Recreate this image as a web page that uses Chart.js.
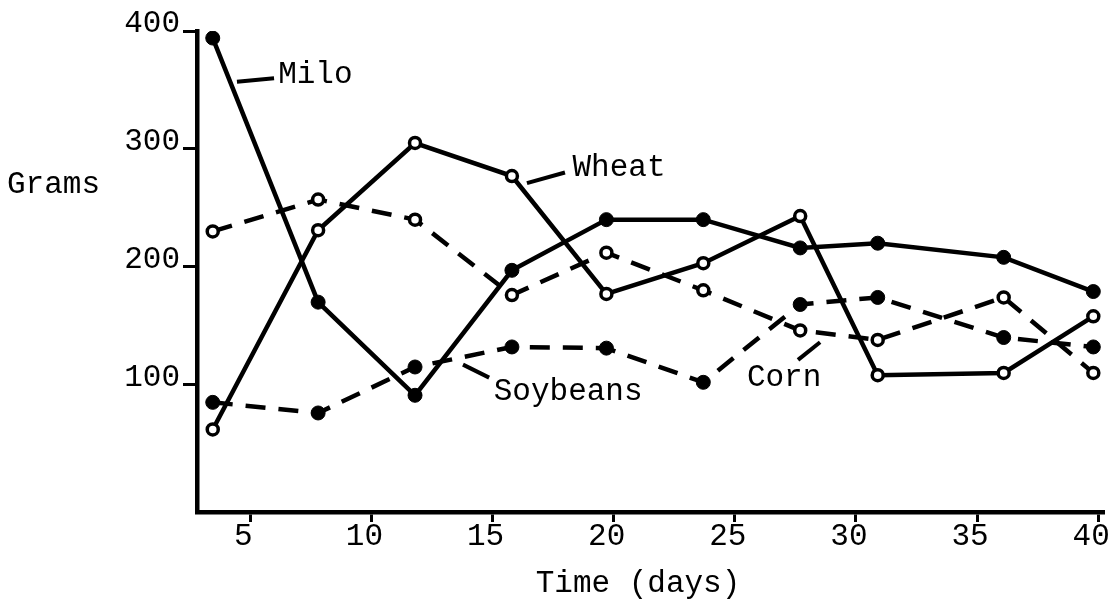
<!DOCTYPE html>
<html>
<head>
<meta charset="utf-8">
<script src="https://cdn.jsdelivr.net/npm/chart.js@4/dist/chart.umd.min.js"></script>
<style>
  html, body { margin: 0; padding: 0; background: #fff; }
  canvas { display: block; }
</style>
</head>
<body>
<canvas id="grainChart" width="1116" height="604"></canvas>
<script>
// days at which each grain was weighed
const days = [3.45, 7.8, 11.8, 15.8, 19.7, 23.7, 27.7, 30.9, 36.1, 39.8];

// grams
const milo     = [394, 170,  91, 197, 240, 240, 216, 220, 208, 179];
const wheat    = [ 62, 231, 305, 277, 177, 203, 243, 108, 110, 158];
const soybeans = [ 85,  76, 115, 132, 131, 102, 168, 174, 140, 132];
const corn     = [230, 257, 240, 176, 212, 180, 146, 138, 174, 110];

const xTicks = [5, 10, 15, 20, 25, 30, 35, 40];
const yTicks = [100, 200, 300, 400];

// name labels with their short leader strokes (data units)
const seriesLabels = [
    { text: 'Milo',     at: [6.15, 363], from: [4.45, 357], to: [5.98, 360] },
    { text: 'Wheat',    at: [18.3, 284], from: [16.42, 271], to: [17.99, 280] },
    { text: 'Soybeans', at: [15.05, 94], from: [13.78, 117], to: [14.86, 106] },
    { text: 'Corn',     at: [25.5, 106], from: [28.52, 136], to: [27.61, 121] }
];

const typeFont = '"Liberation Mono", "Courier New", monospace';

function toPoints(values) {
    return values.map((v, i) => ({ x: days[i], y: v }));
}

const labelPlugin = {
    id: 'labelPlugin',
    afterDraw(chart) {
        const c = chart.ctx;
        const xs = chart.scales.x;
        const ys = chart.scales.y;
        c.save();
        c.fillStyle = '#000';
        c.strokeStyle = '#000';
        c.font = '31px ' + typeFont;
        c.textBaseline = 'middle';
        c.lineWidth = 4;
        seriesLabels.forEach(l => {
            c.beginPath();
            c.moveTo(xs.getPixelForValue(l.from[0]), ys.getPixelForValue(l.from[1]));
            c.lineTo(xs.getPixelForValue(l.to[0]), ys.getPixelForValue(l.to[1]));
            c.stroke();
            c.textAlign = 'left';
            c.fillText(l.text, xs.getPixelForValue(l.at[0]), ys.getPixelForValue(l.at[1]));
        });
        // axis titles
        const area = chart.chartArea;
        c.textAlign = 'left';
        c.fillText('Grams', 7, area.top + 154);
        c.textAlign = 'center';
        c.fillText('Time (days)', area.left + 441, area.bottom + 72);
        c.restore();
    }
};

const ctx = document.getElementById('grainChart').getContext('2d');

const grainChart = new Chart(ctx, {
    type: 'line',
    data: {
        datasets: [
            {
                label: 'Milo',
                data: toPoints(milo),
                borderColor: '#000',
                borderWidth: 4.5,
                pointRadius: 7,
                pointBackgroundColor: '#000',
                pointBorderColor: '#000',
                pointBorderWidth: 1
            },
            {
                label: 'Wheat',
                data: toPoints(wheat),
                borderColor: '#000',
                borderWidth: 4.5,
                pointRadius: 5.5,
                pointBackgroundColor: '#fff',
                pointBorderColor: '#000',
                pointBorderWidth: 3.5
            },
            {
                label: 'Soybeans',
                data: toPoints(soybeans),
                borderColor: '#000',
                borderWidth: 4.5,
                borderDash: [20, 13],
                pointRadius: 7,
                pointBackgroundColor: '#000',
                pointBorderColor: '#000',
                pointBorderWidth: 1
            },
            {
                label: 'Corn',
                data: toPoints(corn),
                borderColor: '#000',
                borderWidth: 4.5,
                borderDash: [20, 13],
                pointRadius: 5.5,
                pointBackgroundColor: '#fff',
                pointBorderColor: '#000',
                pointBorderWidth: 3.5
            }
        ]
    },
    options: {
        responsive: false,
        animation: false,
        layout: {
            padding: { top: 31, right: 13, left: 0, bottom: 0 }
        },
        scales: {
            x: {
                type: 'linear',
                min: 2.8,
                max: 40.2,
                afterBuildTicks: (scale) => { scale.ticks = xTicks.map(v => ({ value: v })); },
                afterFit: (scale) => { scale.height = 92; },
                grid: { drawOnChartArea: false, drawTicks: true, tickLength: 10, color: '#000', lineWidth: 3 },
                border: { color: '#000', width: 4.5 },
                ticks: {
                    color: '#000',
                    font: { family: typeFont, size: 31 },
                    padding: -4,
                    labelOffset: -7,
                    maxRotation: 0
                }
            },
            y: {
                type: 'linear',
                min: -8,
                max: 400,
                afterBuildTicks: (scale) => { scale.ticks = yTicks.map(v => ({ value: v })); },
                afterFit: (scale) => { scale.width = 197; },
                grid: { drawOnChartArea: false, drawTicks: true, tickLength: 14, color: '#000', lineWidth: 3 },
                border: { color: '#000', width: 4.5 },
                ticks: {
                    color: '#000',
                    font: { family: typeFont, size: 31 },
                    padding: 3,
                    labelOffset: -7
                }
            }
        },
        plugins: {
            legend: { display: false },
            tooltip: { enabled: false }
        }
    },
    plugins: [labelPlugin]
});
</script>
</body>
</html>
